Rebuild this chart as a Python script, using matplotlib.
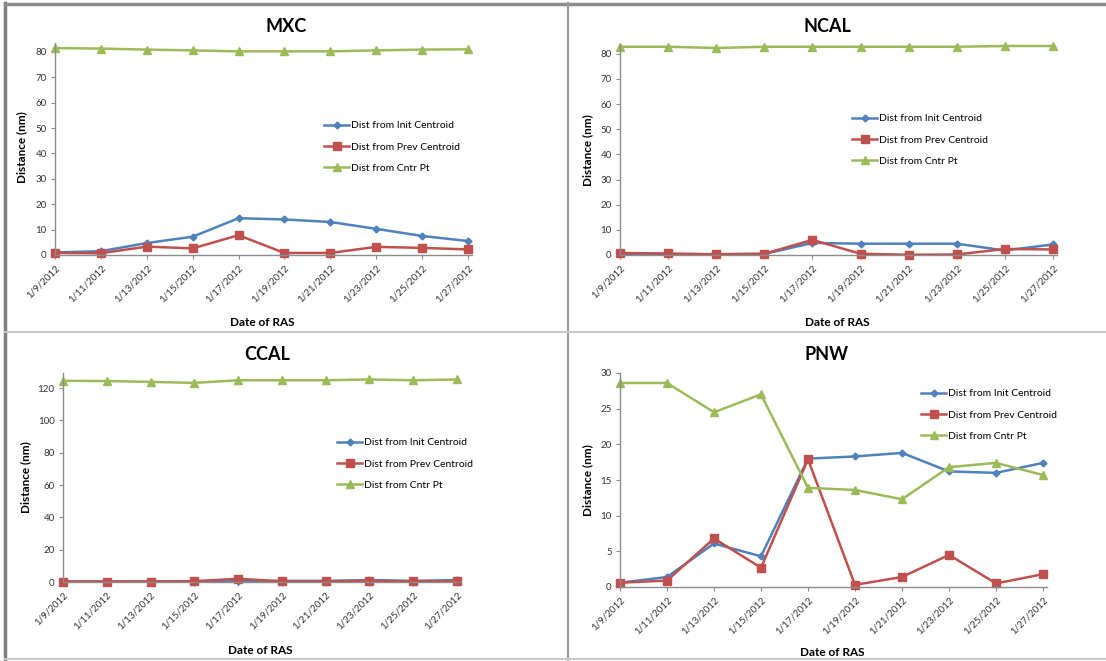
import matplotlib
matplotlib.use('Agg')
import matplotlib.pyplot as plt
from matplotlib.lines import Line2D

plt.rcParams['font.family'] = ['Lato', 'DejaVu Sans']

# データ
dates = ['1/9/2012', '1/11/2012', '1/13/2012', '1/15/2012', '1/17/2012',
         '1/19/2012', '1/21/2012', '1/23/2012', '1/25/2012', '1/27/2012']
series_names = ['Dist from Init Centroid', 'Dist from Prev Centroid', 'Dist from Cntr Pt']

mxc_init = [1.0, 1.5, 4.7, 7.2, 14.5, 14.0, 13.0, 10.3, 7.5, 5.5]
mxc_prev = [0.8, 0.7, 3.3, 2.6, 7.8, 0.8, 0.8, 3.2, 2.8, 2.2]
mxc_cntr = [81.5, 81.3, 80.9, 80.6, 80.2, 80.2, 80.2, 80.6, 80.9, 81.0]

ncal_init = [0.5, 0.3, 0.3, 0.4, 4.8, 4.5, 4.5, 4.5, 1.8, 4.2]
ncal_prev = [0.8, 0.6, 0.3, 0.5, 6.0, 0.5, 0.1, 0.2, 2.4, 2.2]
ncal_cntr = [82.8, 82.8, 82.3, 82.8, 82.8, 82.8, 82.8, 82.8, 83.1, 83.1]

ccal_init = [0.3, 0.3, 0.3, 0.5, 0.5, 0.7, 0.7, 1.2, 0.7, 1.2]
ccal_prev = [0.3, 0.3, 0.3, 0.5, 2.0, 0.4, 0.4, 0.6, 0.4, 0.4]
ccal_cntr = [124.5, 124.3, 123.8, 123.2, 124.8, 124.8, 124.8, 125.3, 124.8, 125.3]

pnw_init = [0.6, 1.4, 6.1, 4.3, 18.0, 18.3, 18.8, 16.2, 16.0, 17.4]
pnw_prev = [0.6, 0.9, 6.8, 2.7, 17.9, 0.3, 1.4, 4.5, 0.5, 1.8]
pnw_cntr = [28.6, 28.6, 24.5, 27.0, 13.9, 13.6, 12.3, 16.8, 17.4, 15.7]

W, H = 1106, 661
fig = plt.figure(figsize=(W / 100, H / 100), dpi=100)


def fx(px):
    return px / W


def fy(py):
    return 1 - py / H


colors = ['#4F81BD', '#C0504D', '#9BBB59']
markers = [('D', 3.5), ('s', 5.5), ('^', 5.5)]

# パネル定義: タイトル, データ, 軸の画素位置(左, 右, 上, 下), y上限, y目盛, 凡例位置, タイトル位置, ラベル位置
panels = [
    ('MXC', (mxc_init, mxc_prev, mxc_cntr), (55, 468, 43, 255), 83.5, range(0, 81, 10),
     (324, 121), (286, 27), (22, 147), (262, 322)),
    ('NCAL', (ncal_init, ncal_prev, ncal_cntr), (620, 1053, 45, 255), 83.5, range(0, 81, 10),
     (852, 114), (827, 27), (588, 150), (837, 322)),
    ('CCAL', (ccal_init, ccal_prev, ccal_cntr), (63, 457, 373, 582), 129.3, range(0, 121, 20),
     (337, 438), (267, 355), (26, 477), (260, 650)),
    ('PNW', (pnw_init, pnw_prev, pnw_cntr), (620, 1043, 373, 587), 30, range(0, 31, 5),
     (921, 389), (827, 355), (588, 480), (832, 653)),
]

for title, data, (l, r, t, b), ymax, yt, (lx, ly), (tx, ty), (yx, yy), (xx, xy) in panels:
    ax = fig.add_axes([fx(l), fy(b), fx(r - l), (b - t) / H])
    x = list(range(len(dates)))
    for vals, c, (m, ms), name in zip(data, colors, markers, series_names):
        ax.plot(x, vals, color=c, lw=1.8, marker=m, markersize=ms, label=name)
    ax.set_xlim(0, len(dates) - 1)
    ax.set_ylim(0, ymax)
    ax.set_yticks(list(yt))
    ax.set_xticks(x)
    ax.set_xticklabels(dates, rotation=45, ha='right', rotation_mode='anchor')
    for s in ['top', 'right']:
        ax.spines[s].set_visible(False)
    for s in ['left', 'bottom']:
        ax.spines[s].set_color('#8C8C8C')
        ax.spines[s].set_linewidth(1.0)
    ax.spines['bottom'].set_bounds(0, len(dates) - 1 + 0.08)
    ax.tick_params(axis='both', direction='out', length=3, color='#8C8C8C',
                   labelsize=7, labelcolor='#333333', pad=3)
    ax.patch.set_alpha(0)
    for ln in ax.lines:
        ln.set_clip_on(False)
    fig.text(fx(tx), fy(ty), title, fontsize=13, fontweight='bold', ha='center', va='center')
    fig.text(fx(yx), fy(yy), 'Distance (nm)', fontsize=8.5, fontweight='bold',
             rotation=90, ha='center', va='center')
    fig.text(fx(xx), fy(xy), 'Date of RAS', fontsize=8.5, fontweight='bold', ha='center', va='center')
    fig.legend(*ax.get_legend_handles_labels(), loc='upper left',
               bbox_to_anchor=(fx(lx), fy(ly)), frameon=False, fontsize=7.5,
               handlelength=2.4, handletextpad=0.2, labelspacing=1.15,
               borderpad=0, borderaxespad=0)

# 枠線
fig.add_artist(Line2D([fx(5), fx(5)], [fy(3), fy(660)], color='#7F7F7F', lw=2.5))
fig.add_artist(Line2D([fx(5), fx(1106)], [fy(4), fy(4)], color='#8C8C8C', lw=2.5))
fig.add_artist(Line2D([fx(568), fx(568)], [fy(3), fy(661)], color='#9A9A9A', lw=1.5))
fig.add_artist(Line2D([fx(5), fx(1106)], [fy(332), fy(332)], color='#C8C8C8', lw=1.5))
fig.add_artist(Line2D([fx(5), fx(1106)], [fy(659), fy(659)], color='#C8C8C8', lw=1.5))

plt.savefig('out.png', dpi=100)
